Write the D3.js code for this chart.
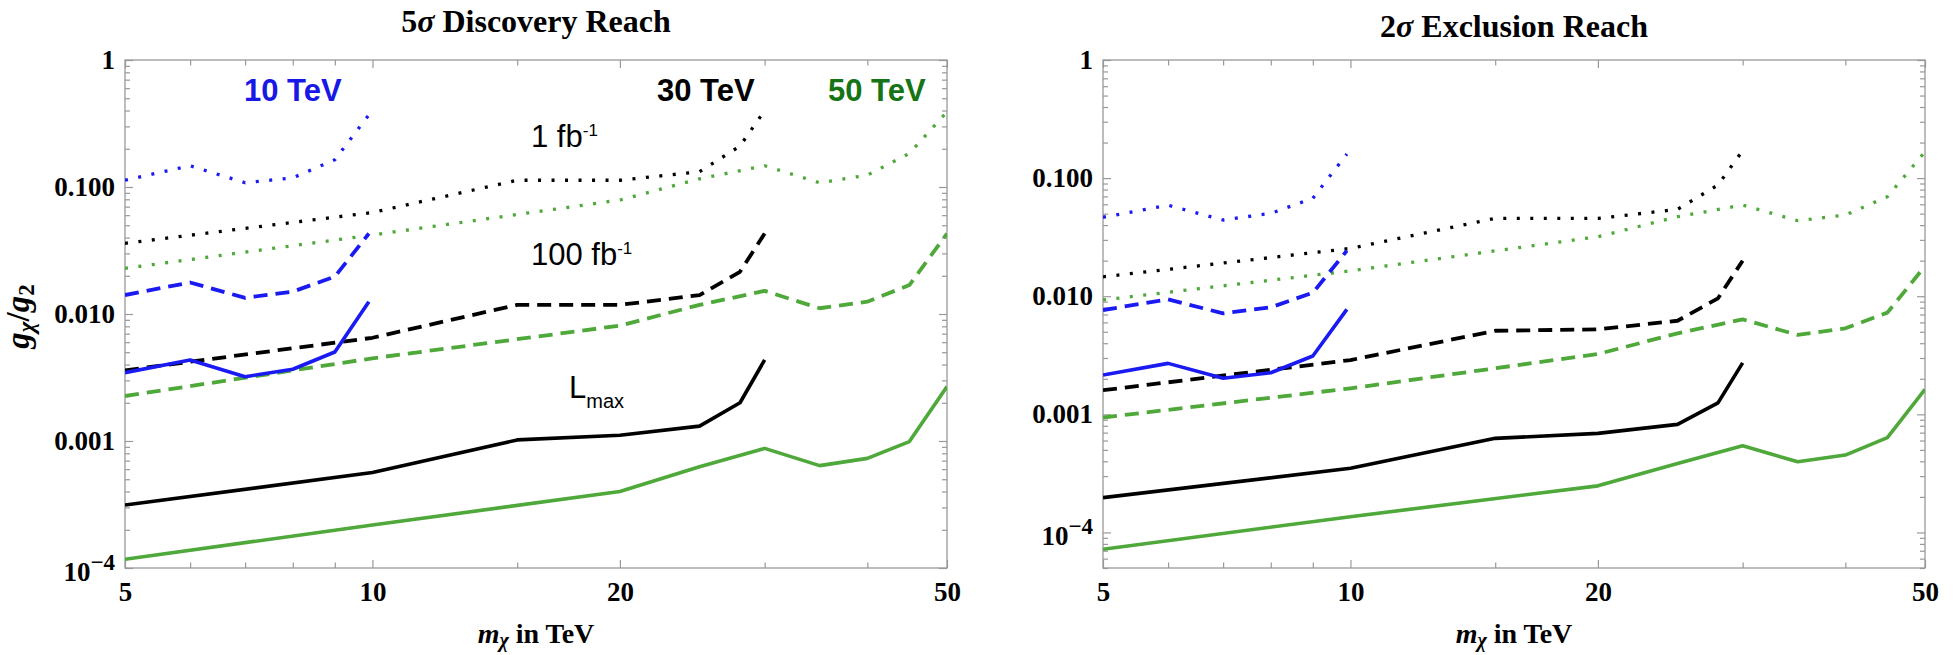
<!DOCTYPE html>
<html>
<head>
<meta charset="utf-8">
<script src="https://cdnjs.cloudflare.com/ajax/libs/d3/7.8.5/d3.min.js"></script>
<style>
  body { margin: 0; background: #fff; }
  .serif { font-family: "Liberation Serif", "Times New Roman", serif; font-weight: bold; }
  .sans { font-family: "Liberation Sans", Arial, sans-serif; }
  .tick line { stroke: #999; stroke-width: 1.2; }
  .tick text { font-family: "Liberation Serif", "Times New Roman", serif; font-weight: bold; font-size: 27px; fill: #000; }
</style>
</head>
<body>
<div class="g-chart-container"></div>
<script>
// masses (TeV) where each collider curve is sampled
var mass10 = [5, 6, 7, 8, 9, 9.9];
var mass30 = [5, 10, 15, 20, 25, 28, 30];
var mass50 = [5, 10, 20, 25, 30, 35, 40, 45, 50];

// 5 sigma discovery reach, g_X/g_2
var disc10_1fb   = [0.113, 0.147, 0.108, 0.118, 0.164, 0.37];
var disc10_100fb = [0.0141, 0.0177, 0.0134, 0.0150, 0.0197, 0.043];
var disc10_lmax  = [0.00345, 0.00434, 0.00321, 0.00367, 0.00502, 0.0125];
var disc30_1fb   = [0.036, 0.063, 0.113, 0.113, 0.132, 0.21, 0.40];
var disc30_100fb = [0.0036, 0.0065, 0.0118, 0.0118, 0.0141, 0.0215, 0.043];
var disc30_lmax  = [0.000313, 0.000564, 0.00102, 0.00111, 0.00131, 0.0020, 0.00435];
var disc50_1fb   = [0.0229, 0.0419, 0.079, 0.116, 0.147, 0.108, 0.124, 0.184, 0.39];
var disc50_100fb = [0.00226, 0.00448, 0.0081, 0.0118, 0.0152, 0.0111, 0.0125, 0.0169, 0.043];
var disc50_lmax  = [0.000117, 0.000218, 0.00040, 0.000628, 0.000875, 0.00064, 0.00073, 0.00099, 0.00268];

// 2 sigma exclusion reach
var excl10_1fb   = [0.0466, 0.059, 0.0442, 0.0503, 0.0675, 0.160];
var excl10_100fb = [0.00764, 0.0094, 0.00716, 0.00805, 0.0107, 0.0243];
var excl10_lmax  = [0.00215, 0.0027, 0.00202, 0.00225, 0.00312, 0.00774];
var excl30_1fb   = [0.0146, 0.0254, 0.0456, 0.0456, 0.0544, 0.0875, 0.171];
var excl30_100fb = [0.0016, 0.00288, 0.0051, 0.00524, 0.0062, 0.0096, 0.020];
var excl30_lmax  = [0.000197, 0.000349, 0.000626, 0.00069, 0.000822, 0.00125, 0.00273];
var excl50_1fb   = [0.0093, 0.0164, 0.0319, 0.0471, 0.0592, 0.0436, 0.0487, 0.0696, 0.167];
var excl50_100fb = [0.00094, 0.00166, 0.00324, 0.00485, 0.00637, 0.0047, 0.00535, 0.00726, 0.018];
var excl50_lmax  = [0.000072, 0.000136, 0.000248, 0.000384, 0.000542, 0.000397, 0.000452, 0.000634, 0.00163];

// ticks
var xTickValues = [5, 6, 7, 8, 9, 10, 15, 20, 30, 40, 50];
var xTickLabels = [5, 10, 20, 50];
var yMajorTicks = [1, 0.1, 0.01, 0.001, 0.0001];
var yTickLabels = ["1", "0.100", "0.010", "0.001", "10^-4"];

var width = 1954;
var height = 655;
var plotW = 822;
var plotTop = 60;
var plotBottom = 568;

var blue = "#1a1af2";
var green = "#4ea83a";
var colors = { c10: blue, c30: "#000", c50: green };
var styles = {
  dotted: { dash: "3,10.5", width: 3.3 },
  dashed: { dash: "14,8", width: 3.8 },
  solid:  { dash: null, width: 3.6 }
};

function pairs(masses, values) {
  return masses.map(function(m, i) { return [m, values[i]]; });
}

var panels = [
  {
    id: "disc", left: 125, yMin: 1e-4, sigma: "5", name: " Discovery Reach", titleY: 32,
    curves: [
      [mass50, disc50_1fb, "c50", "dotted"], [mass50, disc50_100fb, "c50", "dashed"], [mass50, disc50_lmax, "c50", "solid"],
      [mass30, disc30_1fb, "c30", "dotted"], [mass30, disc30_100fb, "c30", "dashed"], [mass30, disc30_lmax, "c30", "solid"],
      [mass10, disc10_1fb, "c10", "dotted"], [mass10, disc10_100fb, "c10", "dashed"], [mass10, disc10_lmax, "c10", "solid"]
    ]
  },
  {
    id: "excl", left: 1103, yMin: 5e-5, sigma: "2", name: " Exclusion Reach", titleY: 37,
    curves: [
      [mass50, excl50_1fb, "c50", "dotted"], [mass50, excl50_100fb, "c50", "dashed"], [mass50, excl50_lmax, "c50", "solid"],
      [mass30, excl30_1fb, "c30", "dotted"], [mass30, excl30_100fb, "c30", "dashed"], [mass30, excl30_lmax, "c30", "solid"],
      [mass10, excl10_1fb, "c10", "dotted"], [mass10, excl10_100fb, "c10", "dashed"], [mass10, excl10_lmax, "c10", "solid"]
    ]
  }
];

var svg = d3.select(".g-chart-container")
  .append("svg")
  .attr("width", width)
  .attr("height", height);

panels.forEach(function(p) {
  var x = d3.scaleLog().domain([5, 50]).range([p.left, p.left + plotW]);
  var y = d3.scaleLog().domain([p.yMin, 1]).range([plotBottom, plotTop]);

  svg.append("clipPath").attr("id", "clip-" + p.id)
    .append("rect")
    .attr("x", x(5)).attr("y", y(1))
    .attr("width", x(50) - x(5)).attr("height", y(p.yMin) - y(1));

  // title
  var title = svg.append("text")
    .attr("class", "serif")
    .attr("x", (x(5) + x(50)) / 2)
    .attr("y", p.titleY)
    .attr("text-anchor", "middle")
    .style("font-size", "32px");
  title.append("tspan").text(p.sigma);
  title.append("tspan").style("font-style", "italic").text("σ");
  title.append("tspan").text(p.name);

  // bottom axis with labels
  var bottom = svg.append("g")
    .attr("transform", "translate(0," + plotBottom + ")")
    .call(d3.axisBottom(x).tickValues(xTickValues).tickSizeInner(-5.5).tickSizeOuter(0).tickPadding(14)
      .tickFormat(function(d) { return xTickLabels.indexOf(d) >= 0 ? d : ""; }));
  bottom.selectAll(".tick line").filter(function(d) { return xTickLabels.indexOf(d) >= 0; }).attr("y2", -8);

  var top = svg.append("g")
    .attr("transform", "translate(0," + plotTop + ")")
    .call(d3.axisTop(x).tickValues(xTickValues).tickSizeInner(-5.5).tickSizeOuter(0).tickFormat(""));
  top.selectAll(".tick line").filter(function(d) { return xTickLabels.indexOf(d) >= 0; }).attr("y2", 8);

  // y axes, minor ticks from the log scale
  var yTicks = y.ticks();
  var isMajor = function(d) { return yMajorTicks.some(function(v) { return Math.abs(v - d) / v < 1e-6; }); };
  var labelOf = function(d) {
    for (var i = 0; i < yMajorTicks.length; i++) {
      if (Math.abs(yMajorTicks[i] - d) / d < 1e-6) return yTickLabels[i];
    }
    return "";
  };

  var leftAx = svg.append("g")
    .attr("transform", "translate(" + x(5) + ",0)")
    .call(d3.axisLeft(y).tickValues(yTicks).tickSizeInner(-5).tickSizeOuter(0).tickPadding(10).tickFormat(labelOf));
  leftAx.selectAll(".tick line").filter(isMajor).attr("x2", 8);
  leftAx.selectAll(".tick text").filter(function(d) { return labelOf(d) == "10^-4"; })
    .text("")
    .attr("dy", "0.45em")
    .call(function(t) {
      t.append("tspan").text("10");
      t.append("tspan").attr("dy", -11).style("font-size", "23px").text("−4");
    });

  var rightAx = svg.append("g")
    .attr("transform", "translate(" + x(50) + ",0)")
    .call(d3.axisRight(y).tickValues(yTicks).tickSizeInner(-5).tickSizeOuter(0).tickFormat(""));
  rightAx.selectAll(".tick line").filter(isMajor).attr("x2", -8);

  svg.selectAll(".domain").remove();

  // frame
  svg.append("rect")
    .attr("x", x(5)).attr("y", y(1))
    .attr("width", x(50) - x(5)).attr("height", y(p.yMin) - y(1))
    .style("fill", "none").style("stroke", "#999").style("stroke-width", 1.3);

  // curves
  var line = d3.line()
    .x(function(d) { return x(d[0]); })
    .y(function(d) { return y(d[1]); });

  svg.append("g").attr("clip-path", "url(#clip-" + p.id + ")")
    .selectAll("path.curve")
    .data(p.curves)
    .enter()
    .append("path")
    .attr("class", "curve")
    .attr("d", function(c) { return line(pairs(c[0], c[1])); })
    .style("fill", "none")
    .style("stroke", function(c) { return colors[c[2]]; })
    .style("stroke-width", function(c) { return styles[c[3]].width; })
    .style("stroke-dasharray", function(c) { return styles[c[3]].dash; })
    .style("stroke-linejoin", "round");

  // x title
  var xt = svg.append("text")
    .attr("class", "serif")
    .attr("x", (x(5) + x(50)) / 2)
    .attr("y", 643)
    .attr("text-anchor", "middle")
    .style("font-size", "28px");
  xt.append("tspan").style("font-style", "italic").text("m");
  xt.append("tspan").style("font-style", "italic").style("font-size", "20px").attr("dy", 4).text("χ");
  xt.append("tspan").attr("dy", -4).text(" in TeV");

  if (p.id == "disc") {
    var yt = svg.append("text")
      .attr("class", "serif")
      .attr("transform", "translate(29," + ((y(1) + y(p.yMin)) / 2 + 2) + ") rotate(-90)")
      .style("font-size", "33px");
    yt.append("tspan").style("font-style", "italic").text("g");
    yt.append("tspan").style("font-style", "italic").style("font-size", "23px").attr("dy", 5).text("χ");
    yt.append("tspan").attr("dy", -5).text("/");
    yt.append("tspan").style("font-style", "italic").text("g");
    yt.append("tspan").style("font-size", "23px").attr("dy", 5).text("2");
    // centre along the axis by measuring the rendered label
    yt.attr("x", -yt.node().getBBox().width / 2);

    // collider energy labels
    var energy = [["10 TeV", 244, "#1818e6"], ["30 TeV", 657, "#000"], ["50 TeV", 828, "#157515"]];
    svg.selectAll("text.energy")
      .data(energy)
      .enter()
      .append("text")
      .attr("class", "energy sans")
      .attr("x", function(d) { return d[1]; })
      .attr("y", 101)
      .style("font-size", "31px")
      .style("font-weight", "bold")
      .style("fill", function(d) { return d[2]; })
      .text(function(d) { return d[0]; });

    // luminosity labels
    var lumi = [["1 fb", "-1", 531, 147, -11], ["100 fb", "-1", 531, 265, -11], ["L", "max", 569, 398, 10]];
    lumi.forEach(function(l) {
      var t = svg.append("text")
        .attr("class", "sans")
        .attr("x", l[2])
        .attr("y", l[3])
        .style("font-size", "31px");
      t.append("tspan").text(l[0]);
      t.append("tspan").attr("dy", l[4]).style("font-size", l[4] < 0 ? "17px" : "20px").text(l[1]);
    });
  }
});
</script>
</body>
</html>
